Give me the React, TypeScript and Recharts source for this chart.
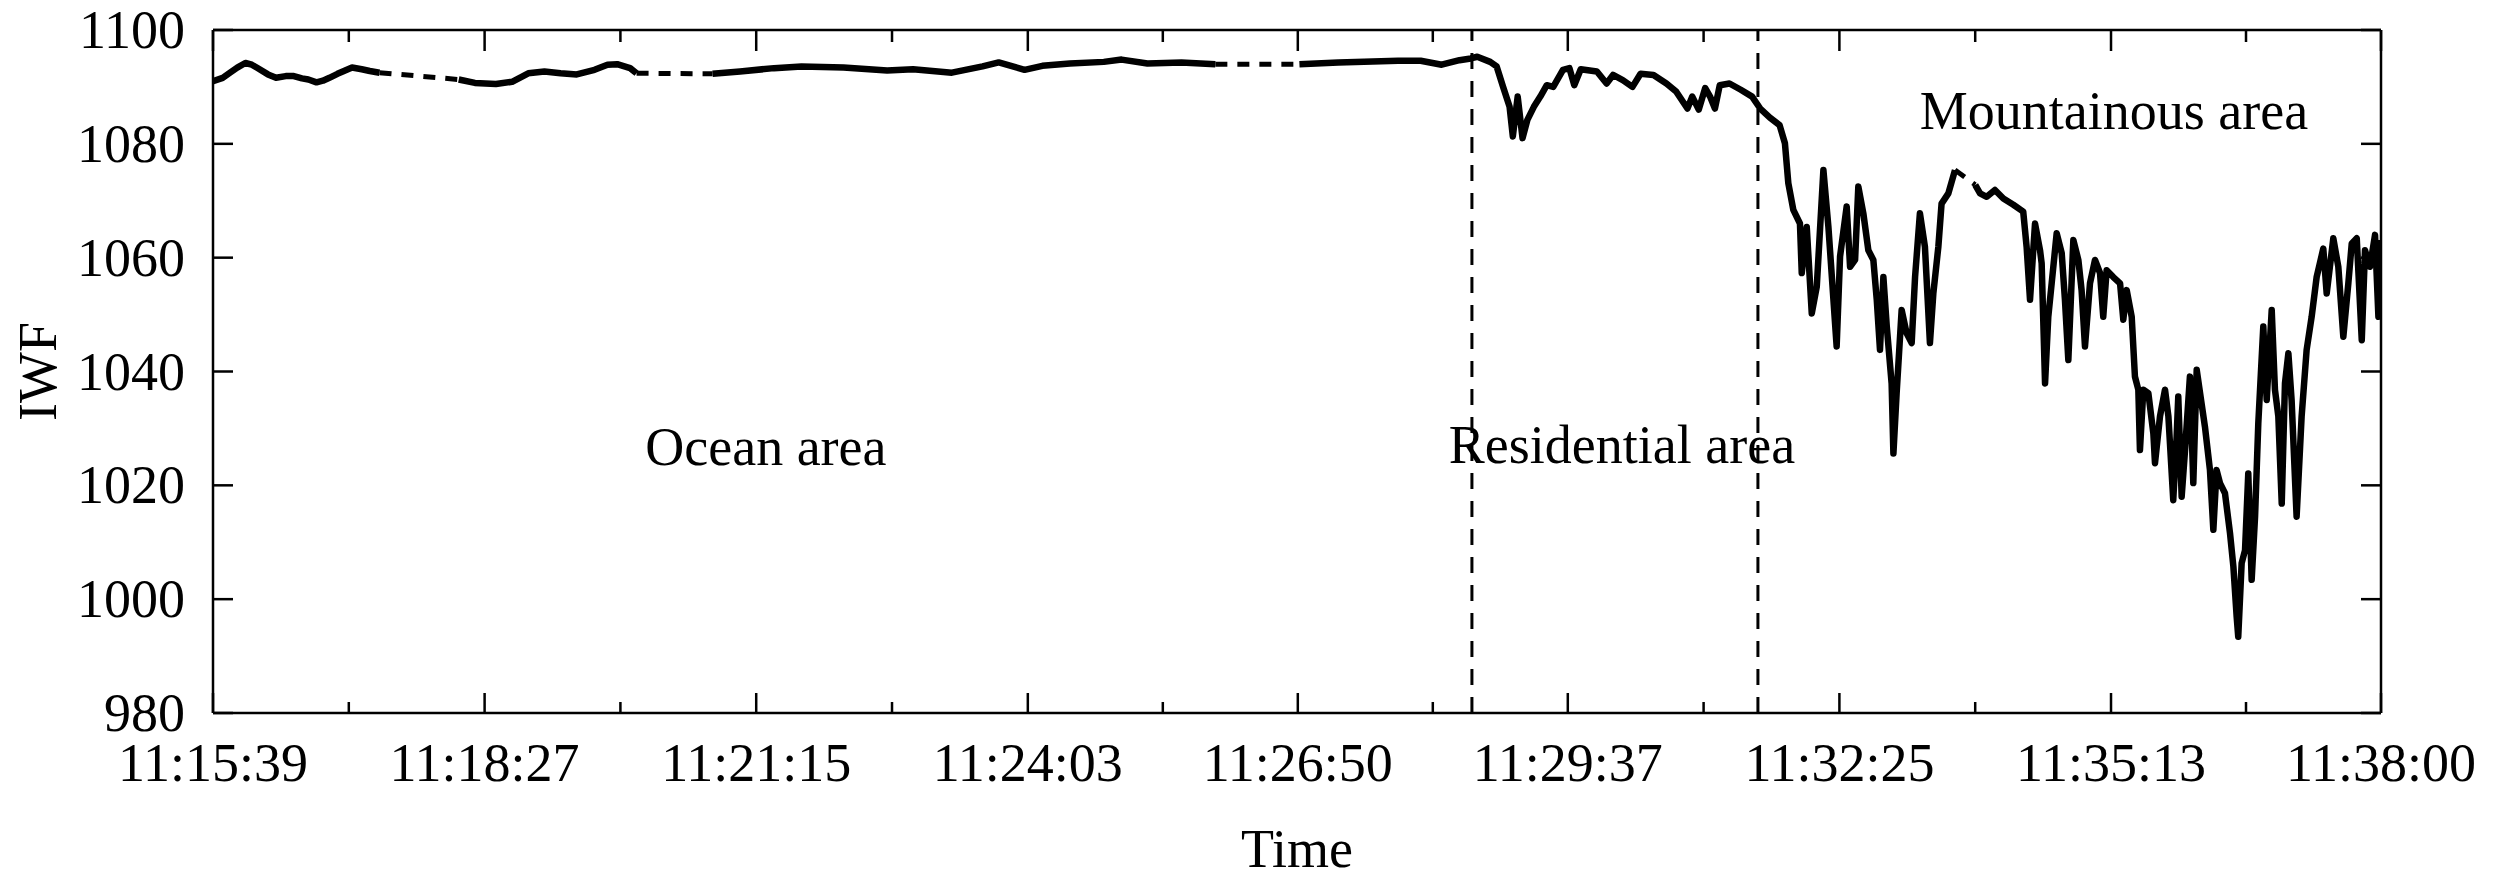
import { LineChart, Line, XAxis, YAxis, ReferenceLine, ReferenceDot } from 'recharts';

type Pt = [number, number | null];

const FONT = '"Liberation Serif", "Times New Roman", serif';
const INK = '#000';

// time axis is seconds after 11:15:39
const majorTicks = [0, 168, 336, 504, 671, 838, 1006, 1174, 1341];
const majorLabels = [
  '11:15:39', '11:18:27', '11:21:15', '11:24:03', '11:26:50',
  '11:29:37', '11:32:25', '11:35:13', '11:38:00',
];
const minorTicks = [84, 252, 420, 587.5, 754.5, 922, 1090, 1257.5];
const iwfTicks = [980, 1000, 1020, 1040, 1060, 1080, 1100];

// borders between the survey zones
const zoneBounds = [778.7, 955.6];

const zoneNames = [
  { name: 'Ocean area', t: 342, iwf: 1027 },
  { name: 'Residential area', t: 871.5, iwf: 1027.3 },
  { name: 'Mountainous area', t: 1175.8, iwf: 1085.9 },
];

// recorded IWF, null marks a dropout
const measured: Pt[] = [
  [0, 1091.0], [6, 1091.6], [11, 1092.6], [15, 1093.4], [20, 1094.2], [24, 1093.9], [27, 1093.4],
  [34, 1092.2], [39, 1091.6], [45, 1091.9], [50, 1091.9], [55, 1091.5], [59, 1091.3], [64, 1090.8],
  [68, 1091.1], [72, 1091.6], [77, 1092.3], [81, 1092.8], [86, 1093.4], [92, 1093.1], [97, 1092.8],
  [103, 1092.5],
  [128, null],
  [152, 1091.3], [162, 1090.7], [175, 1090.5], [185, 1090.9], [195, 1092.4], [205, 1092.7],
  [215, 1092.4], [225, 1092.2], [236, 1093.0], [244, 1093.9], [250, 1094.0], [258, 1093.3],
  [262, 1092.4],
  [285, null],
  [309, 1092.3], [326, 1092.7], [347, 1093.3], [364, 1093.6], [390, 1093.4], [417, 1092.9],
  [433, 1093.1], [457, 1092.5], [476, 1093.6], [486, 1094.3], [502, 1093.0], [513, 1093.7],
  [530, 1094.1], [551, 1094.4], [562, 1094.8], [578, 1094.1], [599, 1094.3], [620, 1094.0],
  [646, null],
  [672, 1094.0], [696, 1094.3], [712, 1094.4], [733, 1094.6], [747, 1094.6], [760, 1093.9],
  [771, 1094.7], [778, 1095.0], [782, 1095.3], [790, 1094.4], [794, 1093.6], [798, 1090.0],
  [802, 1086.5], [804, 1081.3], [807, 1088.3], [810, 1081.0], [813, 1084.2], [817, 1086.5],
  [821, 1088.3], [825, 1090.3], [829, 1090.0], [835, 1093.0], [839, 1093.3], [842, 1090.3],
  [846, 1093.1], [856, 1092.7], [862, 1090.6], [866, 1092.1], [872, 1091.2], [878, 1090.0],
  [883, 1092.3], [891, 1092.1], [899, 1090.6], [905, 1089.2], [912, 1086.2], [915, 1088.3],
  [919, 1086.0], [923, 1089.8], [926, 1088.3], [929, 1086.2], [932, 1090.3], [938, 1090.6],
  [945, 1089.5], [952, 1088.3], [957, 1086.2], [963, 1084.6], [969, 1083.3], [972.3, 1080.1],
  [974.4, 1073.1], [977.5, 1068.4], [981.6, 1066.0], [982.7, 1057.3], [985.8, 1065.4],
  [988.9, 1050.2], [992.0, 1054.9], [996.1, 1075.4], [999.2, 1065.4], [1000.2, 1061.3],
  [1004.3, 1044.4], [1006.4, 1060.2], [1010.5, 1069.0], [1012.6, 1058.4], [1015.7, 1059.6],
  [1017.7, 1072.5], [1020.8, 1067.8], [1023.9, 1061.3], [1027.0, 1059.6], [1029.1, 1052.6],
  [1031.1, 1043.8], [1033.2, 1056.6], [1035.3, 1047.9], [1038.3, 1037.9], [1039.4, 1025.6],
  [1041.4, 1036.2], [1044.5, 1050.8], [1047.6, 1046.7], [1050.7, 1045.0], [1052.8, 1056.6],
  [1055.8, 1067.8], [1058.9, 1061.9], [1062.0, 1045.0], [1064.1, 1053.7], [1067.2, 1061.9],
  [1069.2, 1069.5], [1073.4, 1071.3], [1077.5, 1075.4],
  [1084, null],
  [1090, 1072.8], [1093.0, 1071.3], [1097.1, 1070.7], [1102.2, 1071.9], [1107.4, 1070.4],
  [1113.6, 1069.3], [1119.7, 1068.1], [1121.8, 1061.9], [1123.9, 1052.6], [1127.0, 1066.0],
  [1130.1, 1061.3], [1131.1, 1059.0], [1133.2, 1037.9], [1135.2, 1049.6], [1137.3, 1055.5],
  [1140.4, 1064.3], [1143.5, 1060.8], [1145.5, 1052.6], [1147.6, 1042.0], [1150.7, 1063.1],
  [1153.8, 1059.6], [1155.8, 1054.3], [1157.9, 1044.4], [1161.0, 1055.5], [1164.1, 1059.6],
  [1167.2, 1057.3], [1169.2, 1049.6], [1171.3, 1057.8], [1175.4, 1056.6], [1179.6, 1055.5],
  [1181.6, 1049.1], [1183.7, 1054.3], [1186.8, 1049.6], [1188.8, 1039.1], [1190.9, 1036.8],
  [1191.9, 1026.2], [1194.0, 1036.8], [1197.1, 1036.2], [1200.2, 1029.1], [1201.2, 1023.9],
  [1204.3, 1032.1], [1207.4, 1036.8], [1209.5, 1032.1], [1212.5, 1017.4], [1214.6, 1028.6],
  [1215.6, 1035.6], [1217.7, 1018.0], [1219.8, 1026.2], [1222.8, 1039.1], [1224.9, 1020.4],
  [1227.0, 1040.3], [1232.1, 1030.3], [1235.2, 1022.7], [1237.3, 1012.2], [1239.3, 1022.7],
  [1241.4, 1020.4], [1244.5, 1018.6], [1247.6, 1011.6], [1249.7, 1005.7], [1251.7, 997.0],
  [1252.7, 993.4], [1254.8, 1006.3], [1256.9, 1008.6], [1258.9, 1022.1], [1261.0, 1003.4],
  [1263.1, 1014.5], [1265.1, 1030.9], [1268.2, 1047.9], [1270.3, 1035.0], [1273.4, 1050.8],
  [1275.4, 1036.8], [1277.5, 1032.1], [1279.6, 1016.8], [1281.6, 1037.9], [1283.7, 1043.2],
  [1285.7, 1035.0], [1288.8, 1014.5], [1291.9, 1032.1], [1295.0, 1043.8], [1298.1, 1049.6],
  [1301.2, 1056.6], [1305.3, 1061.6], [1307.4, 1053.7], [1311.5, 1063.4], [1314.6, 1058.4],
  [1317.7, 1046.1], [1320.8, 1055.5], [1322.9, 1062.5], [1326.0, 1063.4], [1329.1, 1045.5],
  [1331.1, 1061.3], [1334.2, 1058.4], [1337.3, 1064.0], [1339.4, 1049.6], [1341, 1063.1],
];

// straight bridges over the dropouts
const bridged: Pt[] = [
  [103, 1092.5], [152, 1091.3],
  [200, null],
  [262, 1092.4], [309, 1092.3],
  [400, null],
  [620, 1094.0], [672, 1094.0],
  [900, null],
  [1077.5, 1075.4], [1090, 1072.8],
];

const toRows = (pts: Pt[]) => pts.map(([t, iwf]) => ({ t, iwf }));
const measuredRows = toRows(measured);
const bridgedRows = toRows(bridged);

const allTicks = [...majorTicks, ...minorTicks].sort((a, b) => a - b);

const BottomTick = ({ x, y, payload }: any) => {
  const i = majorTicks.indexOf(payload.value);
  return (
    <g>
      <line x1={x} x2={x} y1={y} y2={y - (i >= 0 ? 20 : 11)} stroke={INK} strokeWidth={2.5} />
      {i >= 0 && (
        <text x={x} y={y + 68} textAnchor="middle" fontFamily={FONT} fontSize={54} fill={INK}>
          {majorLabels[i]}
        </text>
      )}
    </g>
  );
};

const TopTick = ({ x, y, payload }: any) => {
  const major = majorTicks.includes(payload.value);
  return <line x1={x} x2={x} y1={y} y2={y + (major ? 21 : 12)} stroke={INK} strokeWidth={2.5} />;
};

const LeftTick = ({ x, y, payload }: any) => (
  <g>
    <line x1={x} x2={x + 20} y1={y} y2={y} stroke={INK} strokeWidth={2.5} />
    <text x={x - 28} y={y + 18} textAnchor="end" fontFamily={FONT} fontSize={54} fill={INK}>
      {payload.value}
    </text>
  </g>
);

const RightTick = ({ x, y }: any) => (
  <line x1={x} x2={x - 20} y1={y} y2={y} stroke={INK} strokeWidth={2.5} />
);

const axisLine = { stroke: INK, strokeWidth: 2.5 };

export default function App() {
  return (
    <div style={{ position: 'absolute', left: 0, top: 0, background: '#fff' }}>
      <LineChart width={2496} height={878} margin={{ top: 0, right: 0, bottom: 0, left: 0 }}>
        <XAxis
          dataKey="t"
          type="number"
          domain={[0, 1341]}
          allowDataOverflow
          ticks={allTicks}
          interval={0}
          height={165}
          tickSize={0}
          tickMargin={0}
          tickLine={false}
          axisLine={axisLine}
          tick={<BottomTick />}
          label={{ value: 'Time', position: 'insideBottom', offset: 11, fontSize: 54, fontFamily: FONT, fill: INK }}
        />
        <XAxis
          xAxisId="top"
          orientation="top"
          dataKey="t"
          type="number"
          domain={[0, 1341]}
          allowDataOverflow
          ticks={allTicks}
          interval={0}
          height={30}
          tickSize={0}
          tickMargin={0}
          tickLine={false}
          axisLine={axisLine}
          tick={<TopTick />}
        />
        <YAxis
          type="number"
          domain={[980, 1100]}
          allowDataOverflow
          ticks={iwfTicks}
          interval={0}
          width={213}
          tickSize={0}
          tickMargin={0}
          tickLine={false}
          axisLine={axisLine}
          tick={<LeftTick />}
          label={{
            value: 'IWF',
            angle: -90,
            position: 'insideLeft',
            offset: 37,
            fontSize: 54,
            fontFamily: FONT,
            fill: INK,
            style: { textAnchor: 'middle' },
          }}
        />
        <YAxis
          yAxisId="right"
          orientation="right"
          type="number"
          domain={[980, 1100]}
          allowDataOverflow
          ticks={iwfTicks}
          interval={0}
          width={115}
          tickSize={0}
          tickMargin={0}
          tickLine={false}
          axisLine={axisLine}
          tick={<RightTick />}
        />
        {zoneBounds.map((t) => (
          <ReferenceLine key={t} x={t} stroke={INK} strokeWidth={3} strokeDasharray="16 12" />
        ))}
        <Line
          data={bridgedRows}
          dataKey="iwf"
          type="linear"
          stroke={INK}
          strokeWidth={5}
          strokeDasharray="12 10"
          dot={false}
          connectNulls={false}
          isAnimationActive={false}
        />
        <Line
          data={measuredRows}
          dataKey="iwf"
          type="linear"
          stroke={INK}
          strokeWidth={6.5}
          strokeLinejoin="round"
          dot={false}
          connectNulls={false}
          isAnimationActive={false}
        />
        {zoneNames.map((z) => (
          <ReferenceDot
            key={z.name}
            x={z.t}
            y={z.iwf}
            r={0}
            fill="none"
            stroke="none"
            label={{ value: z.name, position: 'center', fontSize: 54, fontFamily: FONT, fill: INK }}
          />
        ))}
      </LineChart>
    </div>
  );
}
